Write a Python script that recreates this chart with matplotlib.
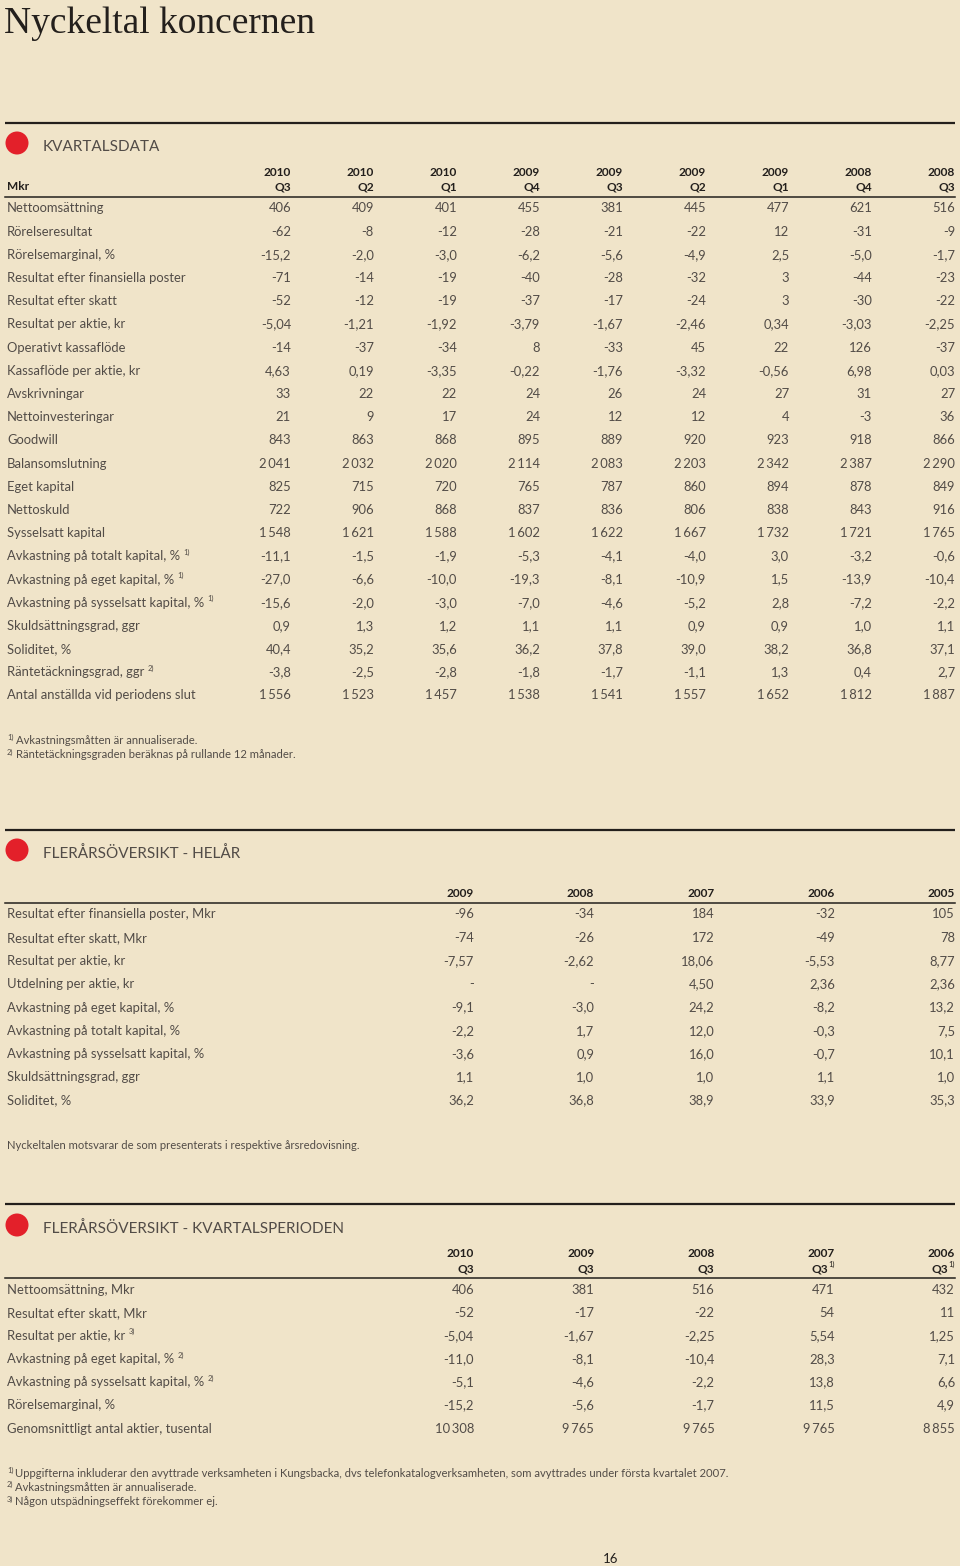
import matplotlib
matplotlib.use("Agg")
import matplotlib.pyplot as plt
from matplotlib.patches import Circle

# ---------------- DATA ----------------
page_title = "Nyckeltal koncernen"

q_title = "KVARTALSDATA"
q_years = ["2010", "2010", "2010", "2009", "2009", "2009", "2009", "2008", "2008"]
q_quarters = ["Q3", "Q2", "Q1", "Q4", "Q3", "Q2", "Q1", "Q4", "Q3"]
q_labels = ["Nettoomsättning", "Rörelseresultat", "Rörelsemarginal, %",
            "Resultat efter finansiella poster", "Resultat efter skatt",
            "Resultat per aktie, kr", "Operativt kassaflöde", "Kassaflöde per aktie, kr",
            "Avskrivningar", "Nettoinvesteringar", "Goodwill", "Balansomslutning",
            "Eget kapital", "Nettoskuld", "Sysselsatt kapital",
            "Avkastning på totalt kapital, %", "Avkastning på eget kapital, %",
            "Avkastning på sysselsatt kapital, %", "Skuldsättningsgrad, ggr",
            "Soliditet, %", "Räntetäckningsgrad, ggr", "Antal anställda vid periodens slut"]
q_notes = ["", "", "", "", "", "", "", "", "", "", "", "", "", "", "",
           "1)", "1)", "1)", "", "", "2)", ""]
q_decimals = [0, 0, 1, 0, 0, 2, 0, 2, 0, 0, 0, 0, 0, 0, 0, 1, 1, 1, 1, 1, 1, 0]
q_values = [
    [406, 409, 401, 455, 381, 445, 477, 621, 516],
    [-62, -8, -12, -28, -21, -22, 12, -31, -9],
    [-15.2, -2.0, -3.0, -6.2, -5.6, -4.9, 2.5, -5.0, -1.7],
    [-71, -14, -19, -40, -28, -32, 3, -44, -23],
    [-52, -12, -19, -37, -17, -24, 3, -30, -22],
    [-5.04, -1.21, -1.92, -3.79, -1.67, -2.46, 0.34, -3.03, -2.25],
    [-14, -37, -34, 8, -33, 45, 22, 126, -37],
    [4.63, 0.19, -3.35, -0.22, -1.76, -3.32, -0.56, 6.98, 0.03],
    [33, 22, 22, 24, 26, 24, 27, 31, 27],
    [21, 9, 17, 24, 12, 12, 4, -3, 36],
    [843, 863, 868, 895, 889, 920, 923, 918, 866],
    [2041, 2032, 2020, 2114, 2083, 2203, 2342, 2387, 2290],
    [825, 715, 720, 765, 787, 860, 894, 878, 849],
    [722, 906, 868, 837, 836, 806, 838, 843, 916],
    [1548, 1621, 1588, 1602, 1622, 1667, 1732, 1721, 1765],
    [-11.1, -1.5, -1.9, -5.3, -4.1, -4.0, 3.0, -3.2, -0.6],
    [-27.0, -6.6, -10.0, -19.3, -8.1, -10.9, 1.5, -13.9, -10.4],
    [-15.6, -2.0, -3.0, -7.0, -4.6, -5.2, 2.8, -7.2, -2.2],
    [0.9, 1.3, 1.2, 1.1, 1.1, 0.9, 0.9, 1.0, 1.1],
    [40.4, 35.2, 35.6, 36.2, 37.8, 39.0, 38.2, 36.8, 37.1],
    [-3.8, -2.5, -2.8, -1.8, -1.7, -1.1, 1.3, 0.4, 2.7],
    [1556, 1523, 1457, 1538, 1541, 1557, 1652, 1812, 1887],
]
q_footnotes = [("1)", "Avkastningsmåtten är annualiserade."),
               ("2)", "Räntetäckningsgraden beräknas på rullande 12 månader.")]

y_title = "FLERÅRSÖVERSIKT - HELÅR"
y_years = ["2009", "2008", "2007", "2006", "2005"]
y_labels = ["Resultat efter finansiella poster, Mkr", "Resultat efter skatt, Mkr",
            "Resultat per aktie, kr", "Utdelning per aktie, kr",
            "Avkastning på eget kapital, %", "Avkastning på totalt kapital, %",
            "Avkastning på sysselsatt kapital, %", "Skuldsättningsgrad, ggr", "Soliditet, %"]
y_decimals = [0, 0, 2, 2, 1, 1, 1, 1, 1]
y_values = [
    [-96, -34, 184, -32, 105],
    [-74, -26, 172, -49, 78],
    [-7.57, -2.62, 18.06, -5.53, 8.77],
    [None, None, 4.50, 2.36, 2.36],
    [-9.1, -3.0, 24.2, -8.2, 13.2],
    [-2.2, 1.7, 12.0, -0.3, 7.5],
    [-3.6, 0.9, 16.0, -0.7, 10.1],
    [1.1, 1.0, 1.0, 1.1, 1.0],
    [36.2, 36.8, 38.9, 33.9, 35.3],
]
y_note = "Nyckeltalen motsvarar de som presenterats i respektive årsredovisning."

p_title = "FLERÅRSÖVERSIKT - KVARTALSPERIODEN"
p_years = ["2010", "2009", "2008", "2007", "2006"]
p_quarters = ["Q3", "Q3", "Q3", "Q3", "Q3"]
p_quarter_notes = ["", "", "", "1)", "1)"]
p_labels = ["Nettoomsättning, Mkr", "Resultat efter skatt, Mkr", "Resultat per aktie, kr",
            "Avkastning på eget kapital, %", "Avkastning på sysselsatt kapital, %",
            "Rörelsemarginal, %", "Genomsnittligt antal aktier, tusental"]
p_notes = ["", "", "3)", "2)", "2)", "", ""]
p_decimals = [0, 0, 2, 1, 1, 1, 0]
p_values = [
    [406, 381, 516, 471, 432],
    [-52, -17, -22, 54, 11],
    [-5.04, -1.67, -2.25, 5.54, 1.25],
    [-11.0, -8.1, -10.4, 28.3, 7.1],
    [-5.1, -4.6, -2.2, 13.8, 6.6],
    [-15.2, -5.6, -1.7, 11.5, 4.9],
    [10308, 9765, 9765, 9765, 8855],
]
p_footnotes = [("1)", "Uppgifterna inkluderar den avyttrade verksamheten i Kungsbacka, dvs telefonkatalogverksamheten, som avyttrades under första kvartalet 2007."),
               ("2)", "Avkastningsmåtten är annualiserade."),
               ("3)", "Någon utspädningseffekt förekommer ej.")]
page_number = "16"

# ---------------- STYLE ----------------
BG = "#F0E4C9"
TXT = "#524c47"
DARK = "#231f1c"
RED = "#E3202A"
FAM = ["Lato", "DejaVu Sans"]
BODY = dict(family=FAM, fontweight="normal", fontsize=9.4, color=TXT)
HEAD = dict(family=FAM, fontweight="bold", fontsize=8.6, color=DARK)
SUP_FS = 5.4

W, H = 960, 1566
fig = plt.figure(figsize=(W / 100, H / 100), dpi=100, facecolor=BG)
ax = fig.add_axes([0, 0, 1, 1])
ax.set_xlim(0, W)
ax.set_ylim(H, 0)
ax.axis("off")
ax.set_facecolor(BG)
fig.canvas.draw()
renderer = fig.canvas.get_renderer()


def fmt(v, d):
    if v is None:
        return "-"
    s = f"{abs(v):,.{d}f}".replace(",", "\u2009").replace(".", ",")
    return ("-" if v < 0 else "") + s


def text_width(t):
    return t.get_window_extent(renderer=renderer).width


def label_with_sup(x, y, text, sup, style):
    t = ax.text(x, y, text, ha="left", va="baseline", **style)
    if sup:
        w = text_width(t)
        st = dict(style)
        st["fontsize"] = SUP_FS
        ax.text(x + w + 3, y - 5.5, sup, ha="left", va="baseline", **st)


def right_with_sup(x, y, text, sup, style):
    if sup:
        st = dict(style)
        st["fontsize"] = SUP_FS
        st["fontweight"] = "normal"
        s = ax.text(x, y - 5.5, sup, ha="right", va="baseline", **st)
        w = text_width(s)
        ax.text(x - w - 0.5, y, text, ha="right", va="baseline", **style)
    else:
        ax.text(x, y, text, ha="right", va="baseline", **style)


def section_header(y_line, y_title, title):
    ax.plot([5, 955], [y_line, y_line], color=DARK, lw=1.6, solid_capstyle="butt")
    ax.add_patch(Circle((17, y_title - 3), 11.5, color=RED, lw=0))
    ax.text(43, y_title + 5, title, ha="left", va="baseline",
            family=FAM, fontsize=11, color=TXT)


# Page title
ax.text(4, 33, page_title, ha="left", va="baseline",
        family=["Liberation Serif", "DejaVu Serif"], fontsize=27.0, color=DARK)

# ---------- Table 1 ----------
section_header(123, 146, q_title)
q_cols = [291 + 83 * i for i in range(len(q_years))]
for x, yr, q in zip(q_cols, q_years, q_quarters):
    ax.text(x, 176, yr, ha="right", va="baseline", **HEAD)
    ax.text(x, 190, q, ha="right", va="baseline", **HEAD)
ax.text(7, 190, "Mkr", ha="left", va="baseline", **HEAD)
ax.plot([5, 955], [196.5, 196.5], color=DARK, lw=1.1)
row_h = 23.19
for i, (lab, note, dec, vals) in enumerate(zip(q_labels, q_notes, q_decimals, q_values)):
    yb = 212.5 + i * row_h
    label_with_sup(7, yb, lab, note, BODY)
    for x, v in zip(q_cols, vals):
        ax.text(x, yb, fmt(v, dec), ha="right", va="baseline", **BODY)

FOOT = dict(BODY)
FOOT["fontsize"] = 8.1
for j, (sup, txt) in enumerate(q_footnotes):
    yb = 744 + j * 14.5
    st = dict(FOOT)
    st["fontsize"] = SUP_FS
    ax.text(7, yb - 4, sup, ha="left", va="baseline", **st)
    ax.text(16, yb, txt, ha="left", va="baseline", **FOOT)

# ---------- Table 2 ----------
section_header(830, 853, y_title)
y_cols = [474 + 120.25 * i for i in range(len(y_years))]
for x, yr in zip(y_cols, y_years):
    ax.text(x, 897, yr, ha="right", va="baseline", **HEAD)
ax.plot([5, 955], [903, 903], color=DARK, lw=1.1)
row_h2 = 23.25
for i, (lab, dec, vals) in enumerate(zip(y_labels, y_decimals, y_values)):
    yb = 918.5 + i * row_h2
    label_with_sup(7, yb, lab, "", BODY)
    for x, v in zip(y_cols, vals):
        ax.text(x, yb, fmt(v, dec), ha="right", va="baseline", **BODY)
ax.text(7, 1149, y_note, ha="left", va="baseline", **FOOT)

# ---------- Table 3 ----------
section_header(1204, 1228, p_title)
p_cols = y_cols
for x, yr, q, qn in zip(p_cols, p_years, p_quarters, p_quarter_notes):
    ax.text(x, 1257, yr, ha="right", va="baseline", **HEAD)
    right_with_sup(x, 1272, q, qn, HEAD)
ax.plot([5, 955], [1277.5, 1277.5], color=DARK, lw=1.1)
row_h3 = 23.17
for i, (lab, note, dec, vals) in enumerate(zip(p_labels, p_notes, p_decimals, p_values)):
    yb = 1293.5 + i * row_h3
    label_with_sup(7, yb, lab, note, BODY)
    for x, v in zip(p_cols, vals):
        ax.text(x, yb, fmt(v, dec), ha="right", va="baseline", **BODY)

FOOT3 = dict(FOOT)
FOOT3["fontsize"] = 8.15
for j, (sup, txt) in enumerate(p_footnotes):
    yb = 1477 + j * 14.2
    st = dict(FOOT3)
    st["fontsize"] = SUP_FS
    ax.text(7, yb - 4, sup, ha="left", va="baseline", **st)
    ax.text(15, yb, txt, ha="left", va="baseline", **FOOT3)

ax.text(611, 1563, page_number, ha="center", va="baseline",
        family=FAM, fontsize=9.5, color=DARK)

fig.savefig("out.png", dpi=100, facecolor=BG)
